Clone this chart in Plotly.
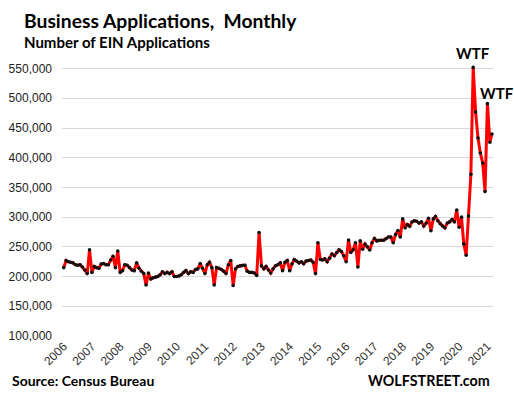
import pandas as pd
import plotly.graph_objects as go

# Monthly business applications (EIN applications), Jan 2006 - Mar 2021
months = pd.date_range("2006-01-01", "2021-03-01", freq="MS")

apps_2006_2009 = [215, 227, 225, 224, 223, 220, 219, 220, 216, 211,
                  205, 245, 207, 217, 215, 214, 221, 222, 220, 220,
                  228, 234, 215, 243, 207, 210, 220, 219, 215, 211,
                  210, 223, 214, 209, 205, 186, 206, 196, 198, 199,
                  200, 203, 208, 205]
apps_2009_2013 = [207, 205, 208, 200, 200, 201, 203, 207, 210, 205,
                  208, 207, 212, 213, 222, 214, 205, 220, 224, 215,
                  186, 215, 214, 212, 209, 205, 220, 227, 185, 213,
                  217, 218, 219, 219, 209, 207, 207, 206, 202, 274,
                  218, 213, 217, 211, 206, 213, 218]
apps_2013_2017 = [220, 223, 210, 224, 227, 210, 221.5, 228.6, 226, 223,
                  225, 221.5, 226, 227, 228, 224, 205, 257, 228.6, 228,
                  229.7, 225, 231, 238, 235, 240.6, 245, 242, 235, 225,
                  261.5, 240.6, 245, 257, 216, 260, 246, 254.6, 250, 244.6,
                  257, 264, 260, 261, 261]
apps_2017_2018 = [261, 264, 266.5, 266.5, 257, 271, 277.6, 266.5, 297, 282,
                  287.6, 284.6, 291.8, 294, 293, 290, 292]
apps_2018_2021 = [285, 290, 298, 277, 297, 301, 294, 289, 285, 282,
                  290, 292, 296, 292, 312, 283, 300, 255, 236, 302,
                  372, 552, 477, 433, 408, 391, 343, 491, 426, 440]

applications = [v * 1000 for v in (apps_2006_2009 + apps_2009_2013 + apps_2013_2017
                                   + apps_2017_2018 + apps_2018_2021)]

years = list(range(2006, 2022))
year_ticks = [pd.Timestamp(f"{y}-01-01") for y in years]
year_labels = [str(y) for y in years]

y_ticks = list(range(100000, 550001, 50000))
y_labels = [f"{v:,}" for v in y_ticks]

fig = go.Figure()
fig.add_trace(go.Scatter(
    x=months, y=applications, mode="lines+markers",
    line=dict(color="#ff0000", width=3),
    marker=dict(color="#111111", size=3.6),
    cliponaxis=False, hoverinfo="skip",
))

peak_i = applications.index(max(applications))
second_i = len(applications) - 3

fig.update_layout(
    width=514, height=395,
    margin=dict(l=62, r=21, t=65, b=59),
    paper_bgcolor="white", plot_bgcolor="white",
    showlegend=False,
    font=dict(family="Liberation Sans, Arial, sans-serif", color="#222"),
    xaxis=dict(
        range=[pd.Timestamp("2005-12-10"), pd.Timestamp("2021-03-14")],
        tickvals=year_ticks, ticktext=year_labels, tickangle=-45,
        tickfont=dict(size=12, color="#333"),
        showgrid=False, zeroline=False, showline=False, ticks="",
        automargin=False,
    ),
    yaxis=dict(
        range=[100000, 556000],
        tickvals=y_ticks, ticktext=y_labels,
        tickfont=dict(size=12, color="#222"),
        showgrid=True, gridcolor="#d9d9d9", gridwidth=1,
        zeroline=False, showline=False, ticks="", ticklabelstandoff=9,
        automargin=False,
    ),
    annotations=[
        dict(text="<b>Business Applications,  Monthly</b>", xref="paper", yref="paper",
             x=-0.093, y=1.165, xanchor="left", yanchor="middle", showarrow=False,
             font=dict(family="Lato, sans-serif", size=19.3, color="#000")),
        dict(text="<b>Number of EIN Applications</b>", xref="paper", yref="paper",
             x=-0.093, y=1.084, xanchor="left", yanchor="middle", showarrow=False,
             font=dict(family="Lato, sans-serif", size=15, color="#000")),
        dict(text="<b>WTF</b>", x=months[peak_i], y=applications[peak_i],
             yshift=14, xanchor="center", yanchor="middle", showarrow=False,
             font=dict(family="Lato, sans-serif", size=15, color="#000")),
        dict(text="<b>WTF</b>", x=months[second_i], y=applications[second_i],
             yshift=11, xshift=10, xanchor="center", yanchor="middle", showarrow=False,
             font=dict(family="Lato, sans-serif", size=15, color="#000")),
        dict(text="<b>Source: Census Bureau</b>", xref="paper", yref="paper",
             x=-0.121, y=-0.165, xanchor="left", yanchor="middle", showarrow=False,
             font=dict(family="Lato, sans-serif", size=14, color="#000")),
        dict(text="<b>WOLFSTREET.com</b>", xref="paper", yref="paper",
             x=0.998, y=-0.165, xanchor="right", yanchor="middle", showarrow=False,
             font=dict(family="Lato, sans-serif", size=14.3, color="#000")),
    ],
)

fig.write_html("out.html",
               config={"displayModeBar": False, "staticPlot": True},
               post_script="document.body.style.margin='0';document.body.style.padding='0';")
